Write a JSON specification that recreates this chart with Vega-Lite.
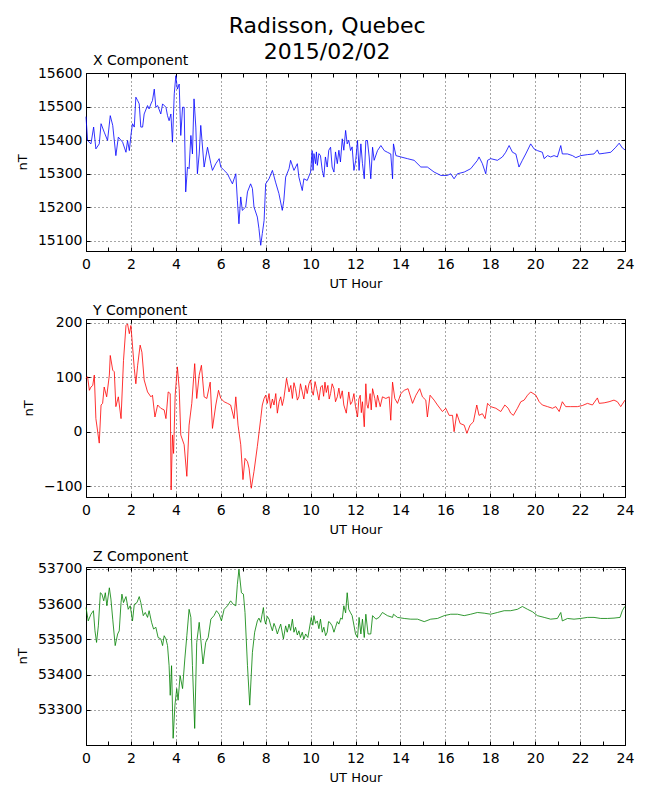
{
"$schema": "https://vega.github.io/schema/vega-lite/v6.json",
"background": "white",
"padding": {"top": 14, "left": 15, "right": 5, "bottom": 0},
"config": {
  "font": "DejaVu Sans",
  "view": {"stroke": "black", "strokeWidth": 1},
  "axis": {"labelFont": "DejaVu Sans", "titleFont": "DejaVu Sans", "labelFontSize": 14, "titleFontSize": 13, "titleFontWeight": "normal", "labelColor": "black", "titleColor": "black", "domainColor": "black", "tickColor": "black", "gridColor": "black", "gridDash": [1, 3], "gridOpacity": 1, "gridWidth": 0.7, "tickSize": -4, "labelFlush": false},
  "title": {"font": "DejaVu Sans", "fontWeight": "normal", "color": "black"}
},
"title": {"text": ["Radisson, Quebec", "2015/02/02"], "fontSize": 22, "lineHeight": 26, "anchor": "middle", "offset": -10, "dx": 2},
"spacing": 12,
"datasets": {
"X": [
{"h":0,"v":15470},{"h":0.07,"v":15399},{"h":0.22,"v":15389},{"h":0.34,"v":15439},{"h":0.44,"v":15374},{"h":0.59,"v":15389},{"h":0.67,"v":15449},{"h":0.81,"v":15424},{"h":0.96,"v":15399},{"h":1.08,"v":15473},{"h":1.19,"v":15444},{"h":1.33,"v":15354},{"h":1.44,"v":15409},{"h":1.63,"v":15394},{"h":1.78,"v":15364},{"h":1.85,"v":15399},{"h":1.93,"v":15369},{"h":2.0,"v":15414},{"h":2.07,"v":15449},{"h":2.15,"v":15439},{"h":2.22,"v":15528},{"h":2.3,"v":15518},{"h":2.37,"v":15508},{"h":2.44,"v":15439},{"h":2.52,"v":15439},{"h":2.59,"v":15478},{"h":2.74,"v":15503},{"h":2.81,"v":15493},{"h":2.89,"v":15508},{"h":2.96,"v":15518},{"h":3.04,"v":15552},{"h":3.11,"v":15498},{"h":3.19,"v":15503},{"h":3.33,"v":15478},{"h":3.41,"v":15508},{"h":3.56,"v":15498},{"h":3.63,"v":15473},{"h":3.7,"v":15458},{"h":3.78,"v":15478},{"h":3.85,"v":15394},{"h":3.93,"v":15538},{"h":4.0,"v":15592},{"h":4.07,"v":15552},{"h":4.15,"v":15567},{"h":4.22,"v":15414},{"h":4.3,"v":15498},{"h":4.37,"v":15498},{"h":4.44,"v":15246},{"h":4.52,"v":15320},{"h":4.59,"v":15315},{"h":4.67,"v":15414},{"h":4.74,"v":15359},{"h":4.81,"v":15523},{"h":4.89,"v":15439},{"h":4.96,"v":15300},{"h":5.04,"v":15359},{"h":5.11,"v":15444},{"h":5.26,"v":15320},{"h":5.41,"v":15379},{"h":5.56,"v":15330},{"h":5.63,"v":15310},{"h":5.78,"v":15330},{"h":5.93,"v":15345},{"h":6.0,"v":15320},{"h":6.15,"v":15310},{"h":6.3,"v":15300},{"h":6.37,"v":15290},{"h":6.52,"v":15270},{"h":6.67,"v":15300},{"h":6.74,"v":15221},{"h":6.81,"v":15151},{"h":6.89,"v":15231},{"h":6.96,"v":15191},{"h":7.11,"v":15201},{"h":7.19,"v":15246},{"h":7.33,"v":15270},{"h":7.41,"v":15256},{"h":7.48,"v":15201},{"h":7.63,"v":15171},{"h":7.7,"v":15137},{"h":7.78,"v":15087},{"h":7.85,"v":15122},{"h":7.93,"v":15161},{"h":8.0,"v":15270},{"h":8.15,"v":15285},{"h":8.3,"v":15310},{"h":8.44,"v":15275},{"h":8.59,"v":15241},{"h":8.74,"v":15191},{"h":8.81,"v":15221},{"h":8.89,"v":15290},{"h":9.04,"v":15315},{"h":9.11,"v":15340},{"h":9.26,"v":15310},{"h":9.41,"v":15330},{"h":9.48,"v":15290},{"h":9.63,"v":15250},{"h":9.7,"v":15285},{"h":9.85,"v":15280},{"h":10.0,"v":15305},{"h":10.07,"v":15369},{"h":10.11,"v":15310},{"h":10.15,"v":15360},{"h":10.22,"v":15330},{"h":10.26,"v":15365},{"h":10.3,"v":15325},{"h":10.37,"v":15360},{"h":10.44,"v":15354},{"h":10.52,"v":15310},{"h":10.59,"v":15290},{"h":10.66,"v":15350},{"h":10.74,"v":15320},{"h":10.81,"v":15370},{"h":10.89,"v":15379},{"h":10.96,"v":15320},{"h":11.04,"v":15305},{"h":11.11,"v":15365},{"h":11.19,"v":15330},{"h":11.26,"v":15370},{"h":11.33,"v":15335},{"h":11.41,"v":15404},{"h":11.48,"v":15370},{"h":11.56,"v":15429},{"h":11.63,"v":15389},{"h":11.7,"v":15400},{"h":11.78,"v":15369},{"h":11.85,"v":15380},{"h":11.93,"v":15310},
{"h":12.01,"v":15340},{"h":12.09,"v":15399},{"h":12.16,"v":15310},{"h":12.24,"v":15389},{"h":12.31,"v":15330},{"h":12.39,"v":15285},{"h":12.46,"v":15399},{"h":12.53,"v":15399},{"h":12.61,"v":15350},{"h":12.68,"v":15285},{"h":12.76,"v":15379},{"h":12.83,"v":15340},{"h":12.98,"v":15369},{"h":13.13,"v":15384},{"h":13.28,"v":15369},{"h":13.42,"v":15364},{"h":13.57,"v":15359},{"h":13.65,"v":15285},{"h":13.69,"v":15389},{"h":13.8,"v":15354},{"h":14.02,"v":15350},{"h":14.31,"v":15345},{"h":14.61,"v":15340},{"h":14.91,"v":15320},{"h":15.2,"v":15320},{"h":15.5,"v":15305},{"h":15.8,"v":15295},{"h":16.09,"v":15295},{"h":16.24,"v":15300},{"h":16.39,"v":15285},{"h":16.54,"v":15300},{"h":16.84,"v":15305},{"h":17.13,"v":15315},{"h":17.43,"v":15340},{"h":17.5,"v":15350},{"h":17.65,"v":15330},{"h":17.8,"v":15300},{"h":17.88,"v":15340},{"h":18.02,"v":15345},{"h":18.32,"v":15340},{"h":18.54,"v":15350},{"h":18.69,"v":15364},{"h":18.84,"v":15384},{"h":18.99,"v":15364},{"h":19.14,"v":15359},{"h":19.28,"v":15320},{"h":19.43,"v":15340},{"h":19.58,"v":15359},{"h":19.8,"v":15389},{"h":19.95,"v":15374},{"h":20.1,"v":15369},{"h":20.32,"v":15364},{"h":20.4,"v":15345},{"h":20.55,"v":15354},{"h":20.69,"v":15350},{"h":20.84,"v":15354},{"h":20.99,"v":15350},{"h":21.14,"v":15384},{"h":21.21,"v":15359},{"h":21.44,"v":15359},{"h":21.66,"v":15354},{"h":21.81,"v":15348},{"h":22.03,"v":15354},{"h":22.33,"v":15357},{"h":22.62,"v":15359},{"h":22.77,"v":15371},{"h":22.85,"v":15359},{"h":23.07,"v":15361},{"h":23.37,"v":15364},{"h":23.59,"v":15379},{"h":23.74,"v":15391},{"h":23.88,"v":15377},{"h":24.0,"v":15371}
],
"Y": [
{"h":0,"v":98},{"h":0.07,"v":101},{"h":0.15,"v":76},{"h":0.22,"v":82},{"h":0.3,"v":85},{"h":0.37,"v":104},{"h":0.44,"v":24},{"h":0.59,"v":-21},{"h":0.67,"v":49},{"h":0.74,"v":52},{"h":0.81,"v":82},{"h":0.92,"v":64},{"h":1.04,"v":104},{"h":1.08,"v":140},{"h":1.19,"v":113},{"h":1.26,"v":110},{"h":1.33,"v":46},{"h":1.44,"v":64},{"h":1.56,"v":24},{"h":1.67,"v":131},{"h":1.78,"v":195},{"h":1.85,"v":198},{"h":1.93,"v":180},{"h":2.0,"v":195},{"h":2.15,"v":116},{"h":2.22,"v":88},{"h":2.3,"v":122},{"h":2.41,"v":159},{"h":2.49,"v":146},{"h":2.59,"v":95},{"h":2.74,"v":73},{"h":2.89,"v":64},{"h":2.96,"v":67},{"h":3.07,"v":27},{"h":3.19,"v":49},{"h":3.33,"v":43},{"h":3.48,"v":40},{"h":3.56,"v":24},{"h":3.66,"v":73},{"h":3.75,"v":70},{"h":3.79,"v":-107},{"h":3.85,"v":-6},{"h":3.9,"v":-40},{"h":3.97,"v":67},{"h":4.07,"v":119},{"h":4.15,"v":79},{"h":4.22,"v":-6},{"h":4.37,"v":-24},{"h":4.49,"v":-82},{"h":4.59,"v":12},{"h":4.71,"v":52},{"h":4.84,"v":125},{"h":4.93,"v":61},{"h":5.04,"v":104},{"h":5.14,"v":122},{"h":5.26,"v":64},{"h":5.38,"v":61},{"h":5.53,"v":91},{"h":5.63,"v":6},{"h":5.78,"v":49},{"h":5.9,"v":76},{"h":6.0,"v":61},{"h":6.15,"v":55},{"h":6.3,"v":52},{"h":6.44,"v":49},{"h":6.59,"v":24},{"h":6.67,"v":64},{"h":6.77,"v":12},{"h":6.89,"v":-24},{"h":6.99,"v":-88},{"h":7.08,"v":-49},{"h":7.19,"v":-55},{"h":7.26,"v":-67},{"h":7.36,"v":-104},{"h":7.48,"v":-73},{"h":7.63,"v":-27},{"h":7.78,"v":24},{"h":7.85,"v":49},{"h":7.93,"v":61},{"h":8.0,"v":67},{"h":8.07,"v":52},{"h":8.15,"v":70},{"h":8.22,"v":43},{"h":8.3,"v":60},{"h":8.37,"v":49},{"h":8.45,"v":70},{"h":8.52,"v":34},{"h":8.6,"v":55},{"h":8.67,"v":64},{"h":8.74,"v":48},{"h":8.81,"v":61},{"h":8.93,"v":98},{"h":9.04,"v":73},{"h":9.12,"v":85},{"h":9.19,"v":61},{"h":9.26,"v":90},{"h":9.33,"v":79},{"h":9.41,"v":58},{"h":9.48,"v":64},{"h":9.55,"v":88},{"h":9.63,"v":73},{"h":9.7,"v":60},{"h":9.78,"v":85},{"h":9.85,"v":70},{"h":9.93,"v":88},{"h":10.0,"v":95},{"h":10.06,"v":75},{"h":10.12,"v":67},{"h":10.2,"v":92},{"h":10.27,"v":79},{"h":10.37,"v":58},{"h":10.45,"v":82},{"h":10.52,"v":85},{"h":10.58,"v":65},{"h":10.64,"v":91},{"h":10.7,"v":72},{"h":10.77,"v":85},{"h":10.83,"v":60},{"h":10.89,"v":70},{"h":10.96,"v":88},{"h":11.04,"v":79},{"h":11.11,"v":55},{"h":11.19,"v":64},{"h":11.26,"v":80},{"h":11.33,"v":61},{"h":11.41,"v":75},{"h":11.48,"v":49},{"h":11.59,"v":34},{"h":11.7,"v":73},{"h":11.78,"v":50},{"h":11.85,"v":55},{"h":11.93,"v":70},{"h":12.0,"v":46},
{"h":12.09,"v":27},{"h":12.15,"v":60},{"h":12.21,"v":67},{"h":12.26,"v":35},{"h":12.31,"v":55},{"h":12.39,"v":9},{"h":12.46,"v":88},{"h":12.51,"v":50},{"h":12.56,"v":43},{"h":12.65,"v":70},{"h":12.7,"v":40},{"h":12.76,"v":79},{"h":12.86,"v":61},{"h":12.92,"v":45},{"h":12.98,"v":67},{"h":13.1,"v":46},{"h":13.2,"v":64},{"h":13.35,"v":61},{"h":13.5,"v":64},{"h":13.57,"v":21},{"h":13.65,"v":91},{"h":13.75,"v":61},{"h":13.87,"v":52},{"h":14.02,"v":70},{"h":14.17,"v":76},{"h":14.34,"v":79},{"h":14.54,"v":52},{"h":14.69,"v":67},{"h":14.86,"v":79},{"h":14.98,"v":64},{"h":15.13,"v":58},{"h":15.2,"v":27},{"h":15.32,"v":67},{"h":15.5,"v":58},{"h":15.65,"v":49},{"h":15.87,"v":37},{"h":16.02,"v":43},{"h":16.17,"v":30},{"h":16.32,"v":30},{"h":16.39,"v":0},{"h":16.51,"v":33},{"h":16.66,"v":15},{"h":16.84,"v":12},{"h":16.96,"v":-3},{"h":17.1,"v":12},{"h":17.25,"v":18},{"h":17.4,"v":49},{"h":17.5,"v":30},{"h":17.65,"v":33},{"h":17.77,"v":24},{"h":17.88,"v":52},{"h":18.02,"v":46},{"h":18.25,"v":43},{"h":18.47,"v":37},{"h":18.65,"v":49},{"h":18.8,"v":43},{"h":18.91,"v":34},{"h":19.03,"v":30},{"h":19.21,"v":43},{"h":19.36,"v":55},{"h":19.51,"v":58},{"h":19.66,"v":67},{"h":19.8,"v":73},{"h":20.03,"v":67},{"h":20.18,"v":55},{"h":20.32,"v":49},{"h":20.55,"v":46},{"h":20.77,"v":43},{"h":20.92,"v":46},{"h":21.07,"v":37},{"h":21.21,"v":55},{"h":21.36,"v":46},{"h":21.58,"v":46},{"h":21.88,"v":46},{"h":22.1,"v":48},{"h":22.33,"v":52},{"h":22.55,"v":49},{"h":22.77,"v":62},{"h":22.85,"v":52},{"h":23.07,"v":53},{"h":23.29,"v":55},{"h":23.51,"v":58},{"h":23.66,"v":55},{"h":23.81,"v":46},{"h":24.0,"v":58}
],
"Z": [
{"h":0,"v":53590},{"h":0.1,"v":53552},{"h":0.22,"v":53571},{"h":0.33,"v":53581},{"h":0.4,"v":53524},{"h":0.47,"v":53491},{"h":0.55,"v":53538},{"h":0.64,"v":53632},{"h":0.71,"v":53628},{"h":0.79,"v":53609},{"h":0.86,"v":53632},{"h":0.93,"v":53595},{"h":1.04,"v":53646},{"h":1.11,"v":53614},{"h":1.19,"v":53557},{"h":1.3,"v":53482},{"h":1.41,"v":53515},{"h":1.48,"v":53524},{"h":1.56,"v":53604},{"h":1.6,"v":53628},{"h":1.67,"v":53604},{"h":1.78,"v":53621},{"h":1.88,"v":53585},{"h":1.97,"v":53595},{"h":2.07,"v":53552},{"h":2.15,"v":53599},{"h":2.27,"v":53604},{"h":2.37,"v":53621},{"h":2.44,"v":53604},{"h":2.55,"v":53567},{"h":2.64,"v":53576},{"h":2.74,"v":53562},{"h":2.81,"v":53581},{"h":2.92,"v":53548},{"h":3.01,"v":53529},{"h":3.11,"v":53534},{"h":3.21,"v":53505},{"h":3.33,"v":53501},{"h":3.41,"v":53482},{"h":3.48,"v":53510},{"h":3.56,"v":53501},{"h":3.63,"v":53482},{"h":3.7,"v":53425},{"h":3.75,"v":53341},{"h":3.81,"v":53425},{"h":3.88,"v":53219},{"h":3.96,"v":53313},{"h":4.04,"v":53360},{"h":4.1,"v":53327},{"h":4.19,"v":53397},{"h":4.3,"v":53360},{"h":4.4,"v":53444},{"h":4.49,"v":53510},{"h":4.59,"v":53585},{"h":4.67,"v":53562},{"h":4.74,"v":53425},{"h":4.84,"v":53247},{"h":4.93,"v":53491},{"h":5.04,"v":53548},{"h":5.11,"v":53501},{"h":5.21,"v":53430},{"h":5.33,"v":53491},{"h":5.44,"v":53505},{"h":5.56,"v":53557},{"h":5.7,"v":53567},{"h":5.81,"v":53581},{"h":5.93,"v":53571},{"h":6.03,"v":53552},{"h":6.15,"v":53585},{"h":6.3,"v":53595},{"h":6.44,"v":53609},{"h":6.56,"v":53599},{"h":6.67,"v":53595},{"h":6.74,"v":53656},{"h":6.81,"v":53698},{"h":6.92,"v":53632},{"h":7.01,"v":53628},{"h":7.08,"v":53576},{"h":7.19,"v":53425},{"h":7.29,"v":53313},{"h":7.41,"v":53463},{"h":7.51,"v":53520},{"h":7.63,"v":53552},{"h":7.7,"v":53560},{"h":7.78,"v":53548},{"h":7.84,"v":53570},{"h":7.9,"v":53590},{"h":7.95,"v":53555},{"h":8.0,"v":53543},{"h":8.07,"v":53565},{"h":8.15,"v":53557},{"h":8.22,"v":53540},{"h":8.3,"v":53524},{"h":8.37,"v":53545},{"h":8.44,"v":53534},{"h":8.52,"v":53515},{"h":8.59,"v":53529},{"h":8.67,"v":53543},{"h":8.79,"v":53501},{"h":8.89,"v":53538},{"h":8.96,"v":53520},{"h":9.04,"v":53543},{"h":9.11,"v":53525},{"h":9.19,"v":53557},{"h":9.26,"v":53520},{"h":9.33,"v":53534},{"h":9.41,"v":53512},{"h":9.48,"v":53524},{"h":9.55,"v":53505},{"h":9.63,"v":53520},{"h":9.7,"v":53500},{"h":9.78,"v":53515},{"h":9.88,"v":53505},{"h":10.03,"v":53562},{"h":10.1,"v":53540},{"h":10.15,"v":53567},{"h":10.22,"v":53545},{"h":10.3,"v":53552},{"h":10.37,"v":53530},{"h":10.44,"v":53557},{"h":10.52,"v":53520},{"h":10.59,"v":53534},{"h":10.67,"v":53510},{"h":10.74,"v":53520},{"h":10.8,"v":53550},{"h":10.86,"v":53548},{"h":10.96,"v":53538},{"h":11.04,"v":53520},{"h":11.11,"v":53534},{"h":11.19,"v":53550},{"h":11.26,"v":53543},{"h":11.34,"v":53560},{"h":11.41,"v":53557},{"h":11.48,"v":53595},{"h":11.56,"v":53575},{"h":11.63,"v":53632},{"h":11.7,"v":53585},{"h":11.78,"v":53575},{"h":11.85,"v":53567},{"h":11.93,"v":53540},{"h":12.0,"v":53515},
{"h":12.09,"v":53505},{"h":12.16,"v":53562},{"h":12.24,"v":53515},{"h":12.31,"v":53557},{"h":12.39,"v":53505},{"h":12.46,"v":53571},{"h":12.56,"v":53515},{"h":12.68,"v":53515},{"h":12.76,"v":53567},{"h":12.91,"v":53557},{"h":13.05,"v":53562},{"h":13.2,"v":53576},{"h":13.42,"v":53567},{"h":13.65,"v":53562},{"h":13.69,"v":53571},{"h":13.87,"v":53562},{"h":14.17,"v":53559},{"h":14.46,"v":53557},{"h":14.76,"v":53557},{"h":15.06,"v":53550},{"h":15.35,"v":53557},{"h":15.65,"v":53559},{"h":15.95,"v":53567},{"h":16.24,"v":53571},{"h":16.54,"v":53571},{"h":16.84,"v":53567},{"h":17.13,"v":53571},{"h":17.43,"v":53576},{"h":17.73,"v":53574},{"h":18.02,"v":53571},{"h":18.32,"v":53576},{"h":18.62,"v":53581},{"h":18.91,"v":53581},{"h":19.21,"v":53585},{"h":19.43,"v":53593},{"h":19.66,"v":53585},{"h":19.88,"v":53578},{"h":20.1,"v":53567},{"h":20.4,"v":53562},{"h":20.69,"v":53557},{"h":20.99,"v":53559},{"h":21.14,"v":53576},{"h":21.21,"v":53552},{"h":21.44,"v":53559},{"h":21.73,"v":53557},{"h":22.03,"v":53559},{"h":22.33,"v":53562},{"h":22.62,"v":53562},{"h":22.92,"v":53559},{"h":23.22,"v":53559},{"h":23.51,"v":53560},{"h":23.78,"v":53562},{"h":23.88,"v":53581},{"h":23.99,"v":53593}
]
},
"vconcat": [
{
  "title": {"text": "X Component", "fontSize": 14, "anchor": "start", "frame": "group", "dx": 7, "offset": -2},
  "width": 539, "height": 178,
  "data": {"name": "X"},
  "resolve": {"axis": {"x": "independent", "y": "independent"}},
  "layer": [
    {
      "mark": {"type": "line", "color": "#0000ff", "strokeWidth": 0.8},
      "encoding": {
        "x": {"field": "h", "type": "quantitative", "scale": {"domain": [0, 24], "nice": false, "zero": false}, "axis": {"title": "UT Hour", "values": [0,1,2,3,4,5,6,7,8,9,10,11,12,13,14,15,16,17,18,19,20,21,22,23,24], "labelExpr": "datum.value % 2 ? '' : datum.label", "gridOpacity": {"condition": {"test": "datum.value % 2 == 1", "value": 0}, "value": 1}, "labelFontSize": 14, "titleFontSize": 13, "labelPadding": 10, "titlePadding": 6, "labelFlush": false}},
        "y": {"field": "v", "type": "quantitative", "scale": {"domain": [15070, 15600], "nice": false, "zero": false}, "axis": {"title": "nT", "values": [15100,15200,15300,15400,15500,15600], "format": "d", "labelFontSize": 14, "titleFontSize": 13, "labelPadding": 8, "titlePadding": 8, "labelFlush": false}}
      }
    },
    {
      "mark": {"type": "line", "strokeOpacity": 0},
      "encoding": {
        "x": {"field": "h", "type": "quantitative", "axis": {"orient": "top", "title": null, "labels": false, "grid": false, "domain": false, "values": [0,1,2,3,4,5,6,7,8,9,10,11,12,13,14,15,16,17,18,19,20,21,22,23,24]}},
        "y": {"field": "v", "type": "quantitative", "axis": {"orient": "right", "title": null, "labels": false, "grid": false, "domain": false, "values": [15100,15200,15300,15400,15500,15600]}}
      }
    }
  ]
},
{
  "title": {"text": "Y Component", "fontSize": 14, "anchor": "start", "frame": "group", "dx": 7, "offset": -2},
  "width": 539, "height": 178,
  "data": {"name": "Y"},
  "resolve": {"axis": {"x": "independent", "y": "independent"}},
  "layer": [
    {
      "mark": {"type": "line", "color": "#ff0000", "strokeWidth": 0.8},
      "encoding": {
        "x": {"field": "h", "type": "quantitative", "scale": {"domain": [0, 24], "nice": false, "zero": false}, "axis": {"title": "UT Hour", "values": [0,1,2,3,4,5,6,7,8,9,10,11,12,13,14,15,16,17,18,19,20,21,22,23,24], "labelExpr": "datum.value % 2 ? '' : datum.label", "gridOpacity": {"condition": {"test": "datum.value % 2 == 1", "value": 0}, "value": 1}, "labelFontSize": 14, "titleFontSize": 13, "labelPadding": 10, "titlePadding": 6, "labelFlush": false}},
        "y": {"field": "v", "type": "quantitative", "scale": {"domain": [-120, 207], "nice": false, "zero": false}, "axis": {"title": "nT", "values": [-100, 0, 100, 200], "format": "d", "labelFontSize": 14, "titleFontSize": 13, "labelPadding": 8, "titlePadding": 8, "labelFlush": false}}
      }
    },
    {
      "mark": {"type": "line", "strokeOpacity": 0},
      "encoding": {
        "x": {"field": "h", "type": "quantitative", "axis": {"orient": "top", "title": null, "labels": false, "grid": false, "domain": false, "values": [0,1,2,3,4,5,6,7,8,9,10,11,12,13,14,15,16,17,18,19,20,21,22,23,24]}},
        "y": {"field": "v", "type": "quantitative", "axis": {"orient": "right", "title": null, "labels": false, "grid": false, "domain": false, "values": [-100, 0, 100, 200]}}
      }
    }
  ]
},
{
  "title": {"text": "Z Component", "fontSize": 14, "anchor": "start", "frame": "group", "dx": 7, "offset": -2},
  "width": 539, "height": 178,
  "data": {"name": "Z"},
  "resolve": {"axis": {"x": "independent", "y": "independent"}},
  "layer": [
    {
      "mark": {"type": "line", "color": "#008000", "strokeWidth": 0.8},
      "encoding": {
        "x": {"field": "h", "type": "quantitative", "scale": {"domain": [0, 24], "nice": false, "zero": false}, "axis": {"title": "UT Hour", "values": [0,1,2,3,4,5,6,7,8,9,10,11,12,13,14,15,16,17,18,19,20,21,22,23,24], "labelExpr": "datum.value % 2 ? '' : datum.label", "gridOpacity": {"condition": {"test": "datum.value % 2 == 1", "value": 0}, "value": 1}, "labelFontSize": 14, "titleFontSize": 13, "labelPadding": 10, "titlePadding": 6, "labelFlush": false}},
        "y": {"field": "v", "type": "quantitative", "scale": {"domain": [53200, 53705], "nice": false, "zero": false}, "axis": {"title": "nT", "values": [53300,53400,53500,53600,53700], "format": "d", "labelFontSize": 14, "titleFontSize": 13, "labelPadding": 8, "titlePadding": 8, "labelFlush": false}}
      }
    },
    {
      "mark": {"type": "line", "strokeOpacity": 0},
      "encoding": {
        "x": {"field": "h", "type": "quantitative", "axis": {"orient": "top", "title": null, "labels": false, "grid": false, "domain": false, "values": [0,1,2,3,4,5,6,7,8,9,10,11,12,13,14,15,16,17,18,19,20,21,22,23,24]}},
        "y": {"field": "v", "type": "quantitative", "axis": {"orient": "right", "title": null, "labels": false, "grid": false, "domain": false, "values": [53300,53400,53500,53600,53700]}}
      }
    }
  ]
}
]
}
